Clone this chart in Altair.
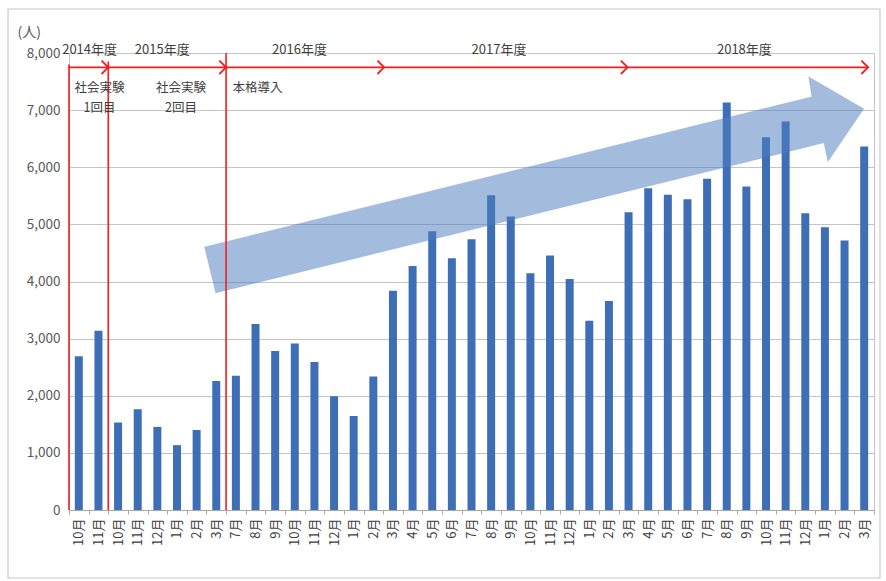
import altair as alt
import pandas as pd

# ---- data -------------------------------------------------------------
months = ["10月", "11月",
          "10月", "11月", "12月", "1月", "2月", "3月",
          "7月", "8月", "9月", "10月", "11月", "12月", "1月", "2月", "3月",
          "4月", "5月", "6月", "7月", "8月", "9月", "10月", "11月", "12月", "1月", "2月", "3月",
          "4月", "5月", "6月", "7月", "8月", "9月", "10月", "11月", "12月", "1月", "2月", "3月"]
users = [2690, 3140,
         1530, 1765, 1455, 1135, 1400, 2260,
         2350, 3255, 2785, 2915, 2590, 1990, 1645, 2335, 3840,
         4270, 4880, 4405, 4740, 5510, 5140, 4145, 4455, 4045, 3315, 3660, 5213,
         5633, 5517, 5440, 5797, 7133, 5663, 6527, 6800, 5195, 4950, 4717, 6363]

# fiscal-year periods (in category-index units) and their labels
period_labels = ["2014年度", "2015年度", "2016年度", "2017年度", "2018年度"]
period_label_x = [0.55, 4.25, 11.24, 21.4, 33.9]
period_start = [-0.5, 1.5, 7.5, 15.55, 27.95]
period_end = [1.5, 7.5, 15.55, 27.95, 40.2]
divider_x = [-0.5, 1.5, 7.5]
divider_top = [7800, 7850, 8000]

# phase notes
note_text = ["社会実験", "1回目", "社会実験", "2回目", "本格導入"]
note_x = [1.05, 1.05, 5.2, 5.2, 7.83]
note_y = [7390, 7040, 7390, 7040, 7390]
note_align = ["center", "center", "center", "center", "left"]

# trend arrow outline (category index, persons)
arrow_x = [6.40, 37.33, 37.17, 39.98, 38.15, 37.95, 6.97, 6.40]
arrow_y = [4606, 7233, 7583, 7023, 6095, 6427, 3800, 4606]

FONT = "Noto Sans CJK JP"
BAR = "#3E6FB6"
RED = "#F01E1E"

# ---- tables -----------------------------------------------------------
df = pd.DataFrame({"i": list(range(len(users))), "m": months, "v": users})
per = pd.DataFrame({"lab": period_labels, "lx": period_label_x,
                    "x0": period_start, "x1": period_end,
                    "ly": [8050] * 5, "ay": [7750] * 5})
div = pd.DataFrame({"x": divider_x, "top": divider_top})
notes = pd.DataFrame({"t": note_text, "x": note_x, "y": note_y, "a": note_align})
arr = pd.DataFrame({"x": arrow_x, "y": arrow_y, "k": list(range(len(arrow_x)))})

xscale = alt.Scale(domain=[-0.5, 40.5], nice=False, zero=False, padding=0)
yscale = alt.Scale(domain=[0, 8000], nice=False, padding=0)

tick_vals = [k / 2 for k in range(-1, 82)]
expr = "''"
for idx in range(len(months) - 1, -1, -1):
    expr = f"datum.value == {idx} ? '{months[idx]}' : ({expr})"
label_expr = expr

xaxis = alt.Axis(values=tick_vals, tickCount=200, labelExpr=label_expr, labelAngle=-90,
                 labelFont=FONT, labelFontSize=13, labelColor="#404040",
                 labelOverlap=False, labelFlush=False, labelBound=False,
                 labelPadding=4, tickSize=4, tickColor="#A8A8A8",
                 tickOpacity={"condition": {"test": "datum.value % 1 === 0", "value": 0}, "value": 1},
                 domainColor="#A8A8A8", grid=False, title=None)
yaxis = alt.Axis(values=list(range(0, 8001, 1000)), format=",d",
                 labelFont=FONT, labelFontSize=13.5, labelColor="#595959",
                 labelPadding=9, ticks=False, domain=False,
                 grid=True, gridColor="#C4C4C4", gridWidth=1.2,
                 title="(人)", titleAngle=0, titleFont=FONT, titleFontSize=14,
                 titleFontWeight="normal", titleColor="#595959",
                 titleAlign="left", titleBaseline="middle", titleX=-52, titleY=-21)

bars = alt.Chart(df).mark_bar(width=8, color=BAR).encode(
    x=alt.X("i:Q", scale=xscale, axis=xaxis),
    y=alt.Y("v:Q", scale=yscale, axis=yaxis),
)

dividers = alt.Chart(div).mark_rule(color=RED, strokeWidth=1.6).encode(
    x=alt.X("x:Q", scale=xscale),
    y=alt.Y("top:Q", scale=yscale),
    y2=alt.datum(0),
)

period_lines = alt.Chart(per).mark_rule(color=RED, strokeWidth=1.8).encode(
    x=alt.X("x0:Q", scale=xscale), x2="x1:Q",
    y=alt.Y("ay:Q", scale=yscale),
)

period_heads = alt.Chart(per).mark_point(
    shape="M -1 -1 L 0 0 L -1 1", filled=False, color=RED, size=180,
    strokeWidth=1.8, opacity=1).encode(
    x=alt.X("x1:Q", scale=xscale),
    y=alt.Y("ay:Q", scale=yscale),
)

period_text = alt.Chart(per).mark_text(
    font=FONT, fontSize=13, color="#404040", baseline="middle", align="center").encode(
    x=alt.X("lx:Q", scale=xscale),
    y=alt.Y("ly:Q", scale=yscale),
    text="lab:N",
)

note_layers = []
for al in ["center", "left"]:
    note_layers.append(
        alt.Chart(notes[notes["a"] == al]).mark_text(
            font=FONT, fontSize=12.5, color="#404040", baseline="middle", align=al).encode(
            x=alt.X("x:Q", scale=xscale),
            y=alt.Y("y:Q", scale=yscale),
            text="t:N",
        )
    )

trend = alt.Chart(arr).mark_line(
    fill="#4F7FC0", fillOpacity=0.52, stroke="#4F7FC0", strokeOpacity=0.3,
    strokeWidth=0.5, interpolate="linear").encode(
    x=alt.X("x:Q", scale=xscale),
    y=alt.Y("y:Q", scale=yscale),
    order=alt.Order("k:Q"),
)

frame = alt.Chart(df.head(1)).mark_rect(
    fill=None, stroke="#C8C8C8", strokeWidth=1.2).encode(
    x=alt.value(-61), x2=alt.value(811), y=alt.value(-44), y2=alt.value(525),
)

chart = alt.layer(
    bars, trend, dividers, period_lines, period_heads, period_text, *note_layers, frame
).properties(
    width=805, height=457,
    autosize=alt.AutoSizeParams(type="none"),
    padding={"left": 69, "top": 53, "right": 12, "bottom": 71},
    background="white",
).configure_view(stroke="#C4C4C4", strokeWidth=1)

chart.save("out.html", embed_options={"renderer": "svg", "actions": False})
